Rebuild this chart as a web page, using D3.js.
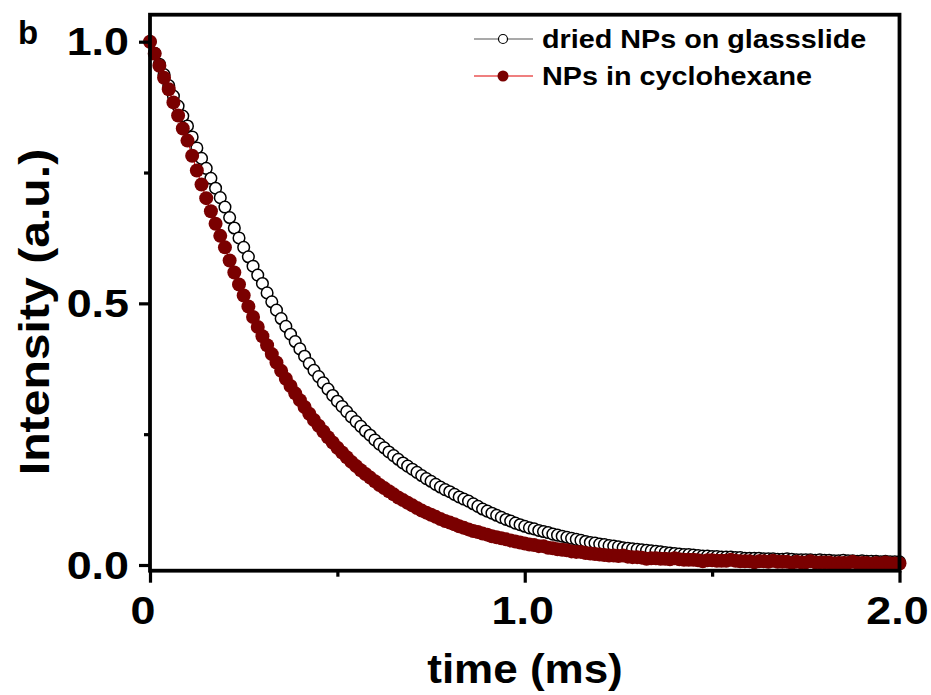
<!DOCTYPE html>
<html><head><meta charset="utf-8">
<script src="https://cdn.jsdelivr.net/npm/d3@7"></script>
<style>
body{margin:0;background:#fff}
text{font-family:"Liberation Sans",Arial,Helvetica,sans-serif;font-weight:bold;fill:#000}
</style>
</head><body>
<svg id="c" width="931" height="695"></svg>
<script>
const timeMs = [0,0.0125,0.025,0.0375,0.05,0.0625,0.075,0.0875,0.1,0.1125,0.125,0.1375,0.15,0.1625,0.175,0.1875,0.2,0.2125,0.225,0.2375,0.25,0.2625,0.275,0.2875,0.3,0.3125,0.325,0.3375,0.35,0.3625,0.375,0.3875,0.4,0.4125,0.425,0.4375,0.45,0.4625,0.475,0.4875,0.5,0.5125,0.525,0.5375,0.55,0.5625,0.575,0.5875,0.6,0.6125,0.625,0.6375,0.65,0.6625,0.675,0.6875,0.7,0.7125,0.725,0.7375,0.75,0.7625,0.775,0.7875,0.8,0.8125,0.825,0.8375,0.85,0.8625,0.875,0.8875,0.9,0.9125,0.925,0.9375,0.95,0.9625,0.975,0.9875,1.0,1.0125,1.025,1.0375,1.05,1.0625,1.075,1.0875,1.1,1.1125,1.125,1.1375,1.15,1.1625,1.175,1.1875,1.2,1.2125,1.225,1.2375,1.25,1.2625,1.275,1.2875,1.3,1.3125,1.325,1.3375,1.35,1.3625,1.375,1.3875,1.4,1.4125,1.425,1.4375,1.45,1.4625,1.475,1.4875,1.5,1.5125,1.525,1.5375,1.55,1.5625,1.575,1.5875,1.6,1.6125,1.625,1.6375,1.65,1.6625,1.675,1.6875,1.7,1.7125,1.725,1.7375,1.75,1.7625,1.775,1.7875,1.8,1.8125,1.825,1.8375,1.85,1.8625,1.875,1.8875,1.9,1.9125,1.925,1.9375,1.95,1.9625,1.975,1.9875,2.0];

const driedGlass = [1.000,0.978,0.957,0.937,0.916,0.896,0.877,0.858,0.839,0.818,
0.797,0.777,0.758,0.739,0.720,0.702,0.684,0.664,0.644,0.625,
0.607,0.589,0.571,0.554,0.538,0.520,0.503,0.487,0.471,0.456,
0.441,0.427,0.413,0.399,0.385,0.372,0.360,0.348,0.336,0.324,
0.313,0.303,0.293,0.283,0.274,0.265,0.256,0.248,0.239,0.231,
0.224,0.216,0.209,0.202,0.195,0.189,0.183,0.177,0.171,0.165,
0.160,0.154,0.149,0.144,0.140,0.135,0.130,0.126,0.122,
0.117,0.112,0.107,0.103,0.099,0.095,0.091,0.087,0.084,0.080,0.077,
0.074,0.071,0.069,0.066,0.064,0.062,0.059,0.057,0.055,0.053,
0.051,0.049,0.047,0.045,0.043,0.042,0.040,0.039,0.037,0.036,
0.035,0.033,0.032,0.031,0.030,0.029,0.028,0.027,0.026,0.025,
0.024,0.023,0.022,0.021,0.020,0.020,0.019,0.018,0.017,0.017,
0.016,0.016,0.015,0.015,0.015,0.014,0.014,0.013,0.013,0.013,
0.013,0.012,0.012,0.012,0.011,0.011,0.012,0.011,0.010,0.010,
0.010,0.010,0.009,0.010,0.009,0.009,0.008,0.008,0.009,0.008,
0.008,0.007,0.008,0.007,0.007,0.007,0.006,0.007,0.006,0.006,0.006];

const cyclohexane = [1.000,0.977,0.954,0.931,0.909,0.884,0.859,0.834,0.811,0.782,
0.754,0.727,0.701,0.676,0.652,0.629,0.607,0.582,0.559,0.536,
0.515,0.494,0.474,0.455,0.437,0.420,0.403,0.387,0.371,0.356,
0.342,0.328,0.315,0.302,0.289,0.277,0.266,0.255,0.244,0.234,
0.224,0.215,0.206,0.197,0.189,0.181,0.174,0.167,0.160,0.153,
0.147,0.141,0.135,0.129,0.124,0.119,0.114,0.109,0.104,0.100,
0.096,0.092,0.088,0.084,0.081,0.078,0.074,0.071,0.068,0.065,
0.063,0.060,0.058,0.055,0.053,0.051,0.049,0.047,0.045,0.043,
0.041,0.039,0.038,0.036,0.036,0.033,0.032,0.030,0.029,0.028,
0.026,0.025,0.025,0.023,0.022,0.021,0.020,0.019,0.018,0.018,
0.017,0.018,0.016,0.015,0.015,0.014,0.012,0.013,0.013,0.012,
0.012,0.011,0.013,0.011,0.010,0.010,0.010,0.009,0.007,0.009,
0.009,0.008,0.008,0.008,0.010,0.008,0.007,0.007,0.007,0.005,
0.007,0.007,0.006,0.008,0.006,0.006,0.006,0.004,0.006,0.005,
0.005,0.007,0.005,0.005,0.005,0.005,0.003,0.004,0.004,0.004,
0.006,0.004,0.004,0.004,0.002,0.004,0.003,0.005,0.003,0.003,0.003];

const xMajorTicks = [0, 1, 2];
const xTickLabels = ["0", "1.0", "2.0"];
const xMinorTicks = [0.5, 1.5];
const yMajorTicks = [0, 0.5, 1];
const yTickLabels = ["0.0", "0.5", "1.0"];
const yMinorTicks = [0.25, 0.75];
const seriesNames = ["dried NPs on glassslide", "NPs in cyclohexane"];
const xTitle = "time (ms)";
const yTitle = "Intensity (a.u.)";
const panelLabel = "b";

const svg = d3.select("#c");
const x = d3.scaleLinear().domain([0, 2]).range([150, 899.5]);
const y = d3.scaleLinear().domain([0, 1]).range([565, 41.7]);
const frameTop = 14.7, frameBottom = 570.7;

const glassPts = timeMs.map((t, i) => [t, driedGlass[i]]);
const cyclPts = timeMs.map((t, i) => [t, cyclohexane[i]]);
const line = d3.line().x(d => x(d[0])).y(d => y(d[1]));

const gG = svg.append("g");
gG.append("path").attr("d", line(glassPts)).attr("fill", "none").attr("stroke", "#000").attr("stroke-width", 1);
gG.selectAll("circle").data(glassPts).join("circle")
  .attr("cx", d => x(d[0])).attr("cy", d => y(d[1])).attr("r", 5.8)
  .attr("fill", "#fff").attr("stroke", "#000").attr("stroke-width", 1.5);

const gR = svg.append("g");
gR.append("path").attr("d", line(cyclPts)).attr("fill", "none").attr("stroke", "#e00000").attr("stroke-width", 1);
gR.selectAll("circle").data(cyclPts).join("circle")
  .attr("cx", d => x(d[0])).attr("cy", d => y(d[1])).attr("r", 7)
  .attr("fill", "#7a0000");

svg.append("rect").attr("x", x(0)).attr("y", frameTop)
  .attr("width", x(2) - x(0)).attr("height", frameBottom - frameTop)
  .attr("fill", "none").attr("stroke", "#000").attr("stroke-width", 3.8);

function styleAxis(g){ g.select(".domain").remove(); g.selectAll("line").attr("stroke","#000").attr("stroke-width",3.2); g.selectAll("text").remove(); }
svg.append("g").attr("transform", `translate(0,${frameBottom})`)
  .call(d3.axisBottom(x).tickValues(xMajorTicks).tickSize(12)).call(styleAxis);
svg.append("g").attr("transform", `translate(0,${frameBottom})`)
  .call(d3.axisBottom(x).tickValues(xMinorTicks).tickSize(6)).call(styleAxis);
svg.append("g").attr("transform", `translate(${x(0)},0)`)
  .call(d3.axisLeft(y).tickValues(yMajorTicks).tickSize(11)).call(styleAxis);
svg.append("g").attr("transform", `translate(${x(0)},0)`)
  .call(d3.axisLeft(y).tickValues(yMinorTicks).tickSize(6)).call(styleAxis);

const SX = 1.18;
svg.append("g").selectAll("text").data(xMajorTicks).join("text")
  .attr("transform", (d, i) => `translate(${x(d) - (i === 0 ? 7 : 2)},624) scale(${SX},1)`)
  .attr("text-anchor", "middle").attr("font-size", 38)
  .text((d, i) => xTickLabels[i]);
svg.append("g").selectAll("text").data(yMajorTicks).join("text")
  .attr("transform", d => `translate(129,${y(d) + 13.5}) scale(${SX},1)`)
  .attr("text-anchor", "end").attr("font-size", 38)
  .text((d, i) => yTickLabels[i]);

svg.append("text").attr("transform", `translate(525,683) scale(1.1,1)`)
  .attr("text-anchor", "middle").attr("font-size", 40).text(xTitle);
svg.append("text").attr("transform", `translate(49,312) rotate(-90) scale(1.12,1)`)
  .attr("text-anchor", "middle").attr("font-size", 43).text(yTitle);
svg.append("text").attr("x", 18).attr("y", 44).attr("font-size", 33).text(panelLabel);

const leg = svg.append("g");
const rows = [
  {name: seriesNames[0], lc: "#555", fill: "#fff", stroke: "#000", r: 4.5, yy: 39},
  {name: seriesNames[1], lc: "#e00000", fill: "#7a0000", stroke: "none", r: 5.5, yy: 76}
];
rows.forEach(rw => {
  leg.append("line").attr("x1", 474).attr("x2", 533).attr("y1", rw.yy).attr("y2", rw.yy)
    .attr("stroke", rw.lc).attr("stroke-width", 1.2);
  leg.append("circle").attr("cx", 503).attr("cy", rw.yy).attr("r", rw.r)
    .attr("fill", rw.fill).attr("stroke", rw.stroke).attr("stroke-width", 1.2);
  leg.append("text").attr("transform", `translate(542,${rw.yy + 8.5}) scale(1.15,1)`)
    .attr("font-size", 25).text(rw.name);
});
</script>
</body></html>
